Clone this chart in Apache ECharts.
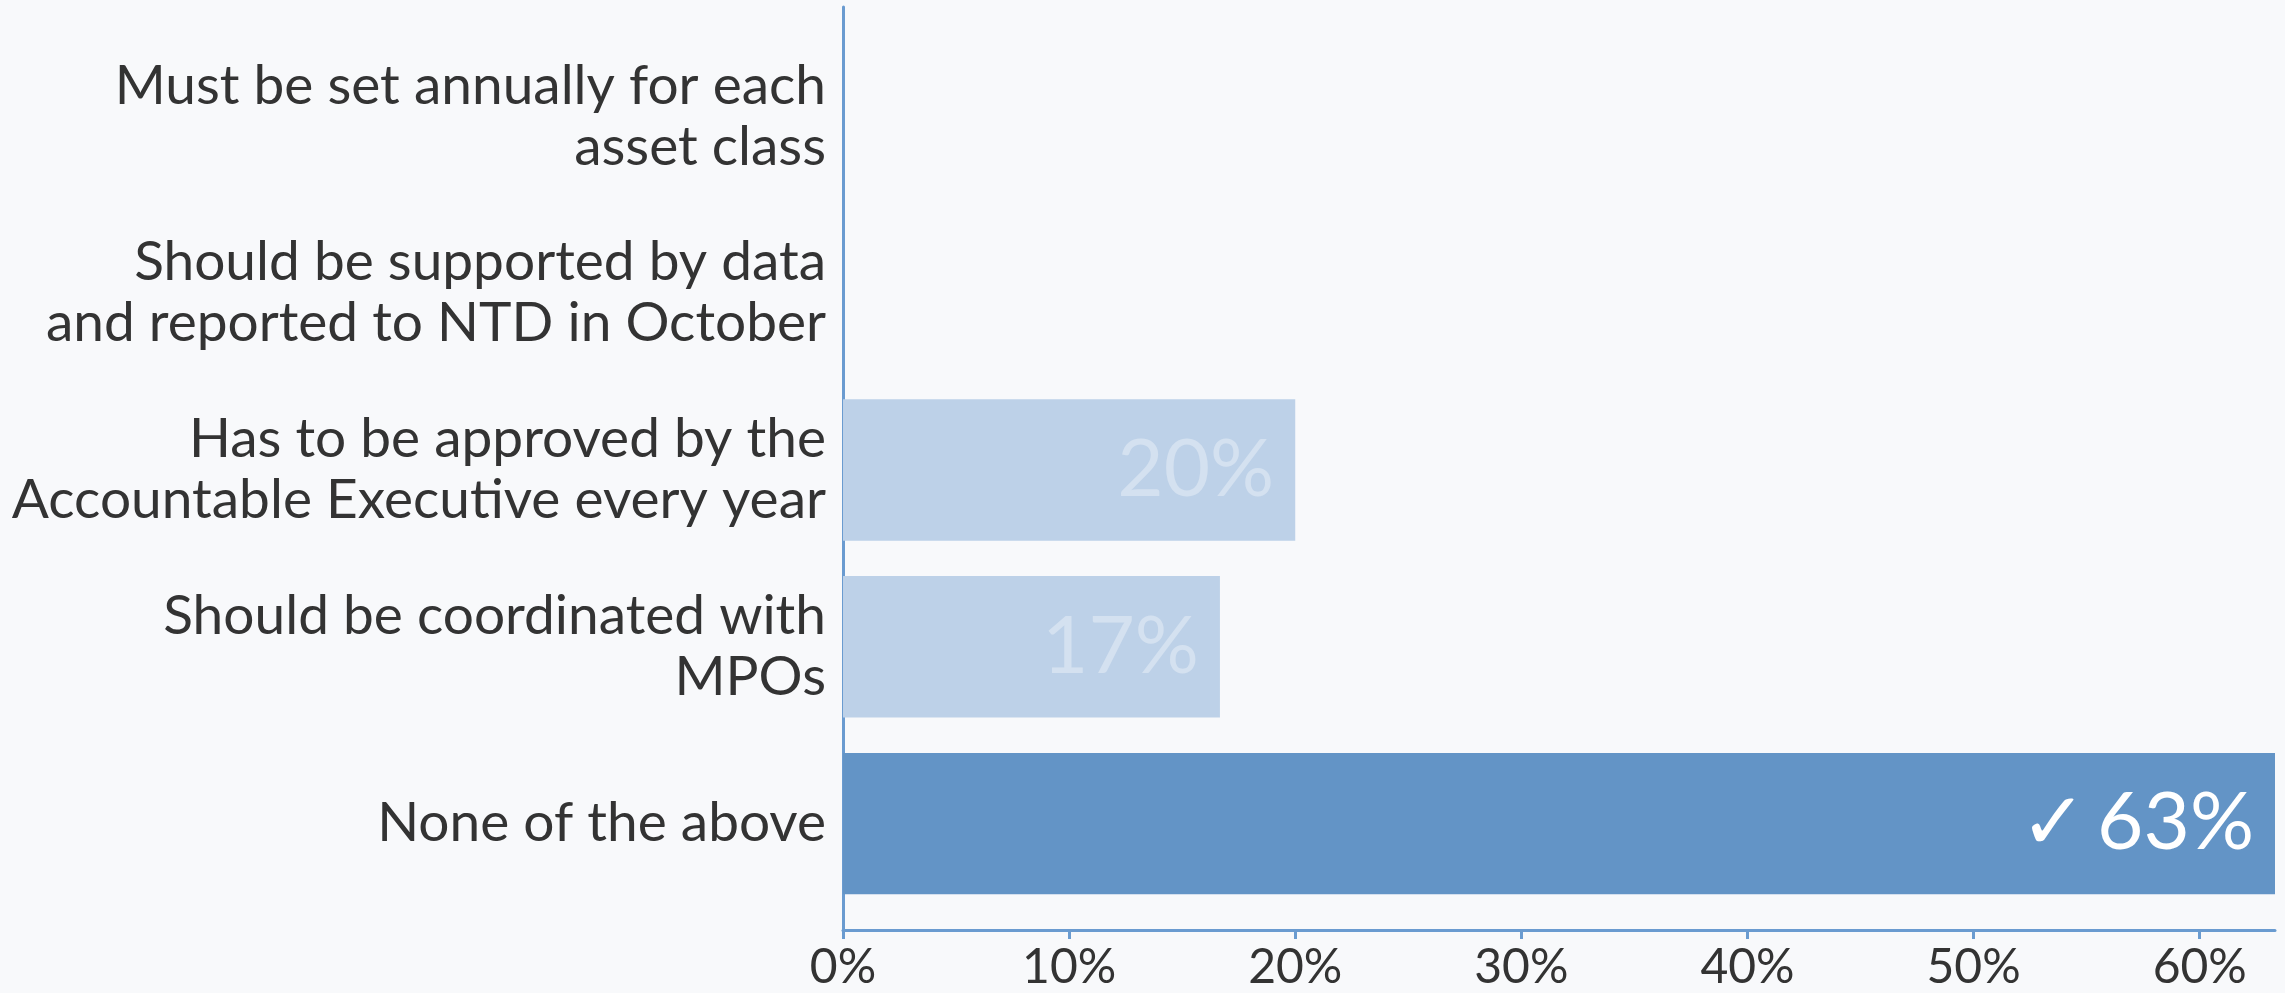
<!DOCTYPE html>
<html>
<head>
<meta charset="utf-8">
<script src="https://cdn.jsdelivr.net/npm/echarts@6/dist/echarts.min.js"></script>
<style>
	html, body { margin: 0; padding: 0; background: #f8f9fb; }
	#chart { width: 2285px; height: 993px; }
</style>
</head>
<body>
<div id="chart"></div>
<script>
// answer options, top to bottom
const categories = [
	'Must be set annually for each\nasset class',
	'Should be supported by data\nand reported to NTD in October',
	'Has to be approved by the\nAccountable Executive every year',
	'Should be coordinated with\nMPOs',
	'None of the above'
];
// share of responses (%)
const shares = [0, 0, 20, 16.67, 63.33];
// which option is the right answer
const correct = [false, false, false, false, true];
const xTicks = [0, 10, 20, 30, 40, 50, 60];

const FONT = 'Lato, "Open Sans", sans-serif';
const AXIS_BLUE = '#6a9bd0';

const chart = echarts.init(document.getElementById('chart'));

const barData = shares.map(function (v, i) {
	return {
		value: v,
		itemStyle: { color: correct[i] ? '#6394c6' : '#bdd1e8' },
		label: { color: correct[i] ? '#ffffff' : 'rgba(255,255,255,0.35)' }
	};
});

const option = {
	backgroundColor: '#f8f9fb',
	animation: false,
	textStyle: { fontFamily: FONT },
	// grid 0 only carries the axis frame, grid 1 holds the bars (category bands are inset)
	grid: [
		{ left: 843, right: 10, top: 7, bottom: 63 },
		{ left: 843, right: 10, top: 28, bottom: 81 }
	],
	xAxis: [
		{
			gridIndex: 0,
			type: 'value',
			min: 0,
			max: shares[4],
			interval: 10,
			axisLine: { show: true, lineStyle: { color: AXIS_BLUE, width: 3 } },
			axisTick: { show: true, length: 9, lineStyle: { color: AXIS_BLUE, width: 3 } },
			splitLine: { show: false },
			axisLabel: {
				margin: 14,
				fontSize: 48,
				color: '#333',
				fontFamily: FONT,
				showMaxLabel: false,
				formatter: function (v) { return xTicks.indexOf(v) >= 0 ? v + '%' : ''; }
			}
		},
		{
			gridIndex: 1,
			type: 'value',
			min: 0,
			max: shares[4],
			show: false
		}
	],
	yAxis: [
		{
			gridIndex: 0,
			type: 'value',
			min: 0,
			max: 1,
			axisLine: { show: true, lineStyle: { color: AXIS_BLUE, width: 3 } },
			axisTick: { show: false },
			axisLabel: { show: false },
			splitLine: { show: false }
		},
		{
			gridIndex: 1,
			type: 'category',
			inverse: true,
			data: categories,
			axisLine: { show: false },
			axisTick: { show: false },
			axisLabel: {
				margin: 17,
				fontSize: 55,
				lineHeight: 61,
				color: '#333',
				fontFamily: FONT,
				align: 'right'
			}
		}
	],
	series: [
		{
			type: 'bar',
			xAxisIndex: 1,
			yAxisIndex: 1,
			barCategoryGap: '20%',
			data: barData,
			label: {
				show: true,
				position: 'insideRight',
				distance: 21,
				fontSize: 80,
				fontFamily: FONT,
				formatter: function (p) {
					if (!p.value) return '';
					const txt = Math.round(p.value) + '%';
					return correct[p.dataIndex] ? '\u2713\u2009' + txt : txt;
				}
			}
		}
	]
};

chart.setOption(option);
</script>
</body>
</html>
